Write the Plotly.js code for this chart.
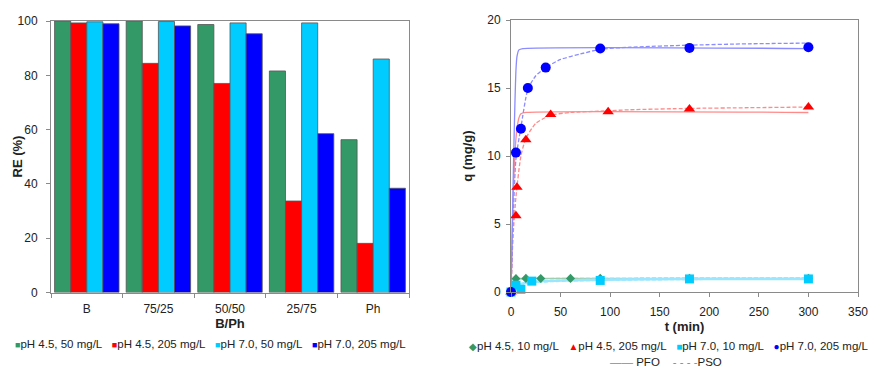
<!DOCTYPE html>
<html>
<head>
<meta charset="utf-8">
<script src="https://cdn.plot.ly/plotly-3.0.1.min.js"></script>
<style>html,body{margin:0;padding:0;background:#fff;}#chart{width:869px;height:367px;}</style>
</head>
<body>
<div id="chart"></div>
<script>
// ---------- Left chart data (RE %) ----------
const categories = ['B', '75/25', '50/50', '25/75', 'Ph'];
const barNames = ['pH 4.5, 50 mg/L', 'pH 4.5, 205 mg/L', 'pH 7.0, 50 mg/L', 'pH 7.0, 205 mg/L'];
const re_pH45_50  = [100.0, 100.0, 98.7, 81.6, 56.3];
const re_pH45_205 = [99.3, 84.4, 77.0, 33.7, 18.1];
const re_pH70_50  = [99.7, 99.8, 99.3, 99.3, 86.0];
const re_pH70_205 = [99.0, 98.2, 95.3, 58.5, 38.4];

// ---------- Right chart data (q vs t) ----------
const kinNames = ['pH 4.5, 10 mg/L', 'pH 4.5, 205 mg/L', 'pH 7.0, 10 mg/L', 'pH 7.0, 205 mg/L'];
const t_pH45_10  = [0, 5, 15, 30, 60, 90, 180, 300];
const q_pH45_10  = [0, 0.98, 1.0, 0.99, 1.0, 1.0, 1.0, 1.0];
const t_pH45_205 = [0, 5, 6, 15, 40, 98, 180, 300];
const q_pH45_205 = [0, 5.6, 7.7, 11.2, 13.05, 13.25, 13.45, 13.6];
const t_pH70_10  = [0, 5, 10, 21, 90, 180, 300];
const q_pH70_10  = [0, 0.5, 0.2, 0.8, 0.85, 0.96, 0.96];
const t_pH70_205 = [0, 5, 10, 17, 35, 90, 180, 300];
const q_pH70_205 = [0, 10.25, 12.0, 15.0, 16.5, 17.9, 17.95, 18.0];

// fitted curves (PFO solid, PSO dashed)
const pfo_t_pH45_10 = [0, 1, 2, 3, 5, 10, 300];
const pfo_q_pH45_10 = [0, 0.5, 0.8, 0.93, 0.99, 1.0, 1.0];
const pso_t_pH45_10 = [0, 1, 2, 3, 5, 10, 30, 60, 300];
const pso_q_pH45_10 = [0, 0.45, 0.7, 0.8, 0.9, 0.95, 0.98, 1.0, 1.02];

const pfo_t_pH45_205 = [0, 1, 2, 3, 4, 5, 6, 8, 10, 15, 300];
const pfo_q_pH45_205 = [0, 3.5, 6.5, 8.6, 10.2, 11.3, 12.0, 12.8, 13.1, 13.2, 13.2];
const pso_t_pH45_205 = [0, 2, 5, 10, 15, 25, 40, 60, 90, 120, 180, 240, 300];
const pso_q_pH45_205 = [0, 4.0, 7.0, 10.0, 11.3, 12.4, 13.0, 13.2, 13.3, 13.4, 13.5, 13.55, 13.6];

const pfo_t_pH70_10 = [0, 2, 5, 10, 20, 40, 90, 180, 300];
const pfo_q_pH70_10 = [0, 0.25, 0.45, 0.6, 0.72, 0.82, 0.9, 0.95, 0.96];
const pso_t_pH70_10 = [0, 2, 5, 10, 20, 40, 90, 180, 300];
const pso_q_pH70_10 = [0, 0.2, 0.4, 0.55, 0.7, 0.8, 0.9, 0.96, 0.99];

const pfo_t_pH70_205 = [0, 1, 2, 3, 4, 5, 6, 8, 12, 300];
const pfo_q_pH70_205 = [0, 3.5, 7.5, 11.0, 14.0, 16.3, 17.3, 17.8, 17.9, 17.9];
const pso_t_pH70_205 = [0, 2, 5, 10, 17, 25, 35, 50, 70, 90, 120, 180, 240, 300];
const pso_q_pH70_205 = [0, 5.0, 9.8, 12.1, 14.9, 15.9, 16.5, 17.1, 17.5, 17.85, 18.0, 18.15, 18.25, 18.3];

const fitNames = ['PFO', 'PSO'];

// ---------- styles ----------
const barColors = ['#339966', '#FF0000', '#00CCFF', '#0000FF'];
const kinColors = ['#339966', '#FF0000', '#00CCFF', '#0000FF'];
const fitColors = ['#9fcfb0', '#ff8a8a', '#9be6ff', '#8c8cff'];
const kinSymbols = ['diamond', 'triangle-up', 'square', 'circle'];
const kinSizes = [7, 10, 9, 10];
const legendGlyphs = ['\u25C6', '\u25B2', '\u25A0', '\u25CF'];

const FONT = 'Arial, "Liberation Sans", sans-serif';
const TXT = '#222';
const AX = '#8a8a8a';

const barSeries = [re_pH45_50, re_pH45_205, re_pH70_50, re_pH70_205];
const traces = [];
barSeries.forEach((vals, i) => {
  traces.push({
    type: 'bar', x: categories, y: vals, name: barNames[i],
    marker: {color: barColors[i], line: {color: '#555', width: 0.8}},
    xaxis: 'x', yaxis: 'y', showlegend: false, hoverinfo: 'skip'
  });
});

const fits = [
  [pfo_t_pH45_10, pfo_q_pH45_10, pso_t_pH45_10, pso_q_pH45_10],
  [pfo_t_pH45_205, pfo_q_pH45_205, pso_t_pH45_205, pso_q_pH45_205],
  [pfo_t_pH70_10, pfo_q_pH70_10, pso_t_pH70_10, pso_q_pH70_10],
  [pfo_t_pH70_205, pfo_q_pH70_205, pso_t_pH70_205, pso_q_pH70_205]
];
fits.forEach((f, i) => {
  traces.push({type: 'scatter', mode: 'lines', x: f[0], y: f[1], xaxis: 'x2', yaxis: 'y2',
    line: {color: fitColors[i], width: i === 2 ? 2.5 : 1.3, shape: 'spline', smoothing: 0.6}, showlegend: false, hoverinfo: 'skip', cliponaxis: false});
  traces.push({type: 'scatter', mode: 'lines', x: f[2], y: f[3], xaxis: 'x2', yaxis: 'y2',
    line: {color: fitColors[i], width: i === 2 ? 2.5 : 1.3, dash: '4px,2px', shape: 'spline', smoothing: 0.6}, showlegend: false, hoverinfo: 'skip', cliponaxis: false});
});

const kinT = [t_pH45_10, t_pH45_205, t_pH70_10, t_pH70_205];
const kinQ = [q_pH45_10, q_pH45_205, q_pH70_10, q_pH70_205];
kinT.forEach((t, i) => {
  traces.push({type: 'scatter', mode: 'markers', x: t, y: kinQ[i], name: kinNames[i], xaxis: 'x2', yaxis: 'y2',
    marker: {symbol: kinSymbols[i], color: kinColors[i], size: kinSizes[i]}, showlegend: false, hoverinfo: 'skip', cliponaxis: false});
});

// legend rows as text
const sp = '\u00a0';
const gap = sp + sp + sp;
const leftLegend = barNames.map((n, i) =>
  `<span style="color:${barColors[i]};font-size:9px">\u25A0</span>${n}`).join(gap);
const rightLegend = kinNames.map((n, i) =>
  `<span style="color:${kinColors[i]};font-size:10px">${legendGlyphs[i]}</span>${n}`).join(gap);
const fitLegend = `<span style="color:#888">\u2014\u2014</span>${sp}${fitNames[0]}${sp}${sp}${sp}${sp}<span style="color:#888">- - - -</span>${fitNames[1]}`;

const tickFont = {family: FONT, size: 12, color: TXT};
const titleFont = {family: FONT, size: 13, color: TXT};

const layout = {
  width: 869, height: 367,
  margin: {l: 0, r: 0, t: 0, b: 0},
  paper_bgcolor: '#fff', plot_bgcolor: '#fff',
  font: {family: FONT, color: TXT},
  showlegend: false,
  barmode: 'group', bargap: 0.1, bargroupgap: 0,
  xaxis: {
    domain: [51/869, 409/869], anchor: 'y', type: 'category',
    showline: true, linecolor: AX, linewidth: 1, mirror: true,
    ticks: 'outside', tickson: 'boundaries', ticklen: 4, tickcolor: AX,
    tickfont: tickFont, ticklabelstandoff: 5, showgrid: false, zeroline: false,
    title: {text: '<b>B/Ph</b>', font: titleFont, standoff: 0}
  },
  yaxis: {
    domain: [1 - 292.5/367, 1 - 21/367], anchor: 'x', range: [0, 100], dtick: 20,
    showline: true, linecolor: AX, linewidth: 1, mirror: true,
    ticks: 'outside', ticklen: 4, tickcolor: AX, tickfont: tickFont, ticklabelstandoff: 6,
    showgrid: false, zeroline: false
  },
  xaxis2: {
    domain: [511/869, 858/869], anchor: 'y2', range: [0, 350], dtick: 50,
    showline: true, linecolor: AX, linewidth: 1, mirror: true,
    ticks: 'outside', ticklen: 4, tickcolor: AX, tickfont: tickFont, ticklabelstandoff: 5,
    showgrid: false, zeroline: false,
    title: {text: '<b>t (min)</b>', font: titleFont, standoff: 1}
  },
  yaxis2: {
    domain: [1 - 292/367, 1 - 20/367], anchor: 'x2', range: [0, 20], dtick: 5,
    showline: true, linecolor: AX, linewidth: 1, mirror: true,
    ticks: 'outside', ticklen: 4, tickcolor: AX, tickfont: tickFont, ticklabelstandoff: 3,
    showgrid: false, zeroline: false,
    title: {text: '<b>q (mg/g)</b>', font: titleFont, standoff: 11}
  },
  annotations: [
    {xref: 'paper', yref: 'paper', x: 17/869, y: 1 - 156.5/367, xanchor: 'center', yanchor: 'middle',
     textangle: -90, text: '<b>RE (%)</b>', showarrow: false, font: titleFont},
    {xref: 'paper', yref: 'paper', x: 13/869, y: 1 - 344/367, xanchor: 'left', yanchor: 'middle',
     text: leftLegend, showarrow: false, font: {family: FONT, size: 11.5, color: TXT}},
    {xref: 'paper', yref: 'paper', x: 668/869, y: 1 - 346/367, xanchor: 'center', yanchor: 'middle',
     text: rightLegend, showarrow: false, font: {family: FONT, size: 11.5, color: TXT}},
    {xref: 'paper', yref: 'paper', x: 666/869, y: 1 - 362/367, xanchor: 'center', yanchor: 'middle',
     text: fitLegend, showarrow: false, font: {family: FONT, size: 11.5, color: TXT}}
  ]
};

Plotly.newPlot('chart', traces, layout, {staticPlot: true, displayModeBar: false});
</script>
</body>
</html>
